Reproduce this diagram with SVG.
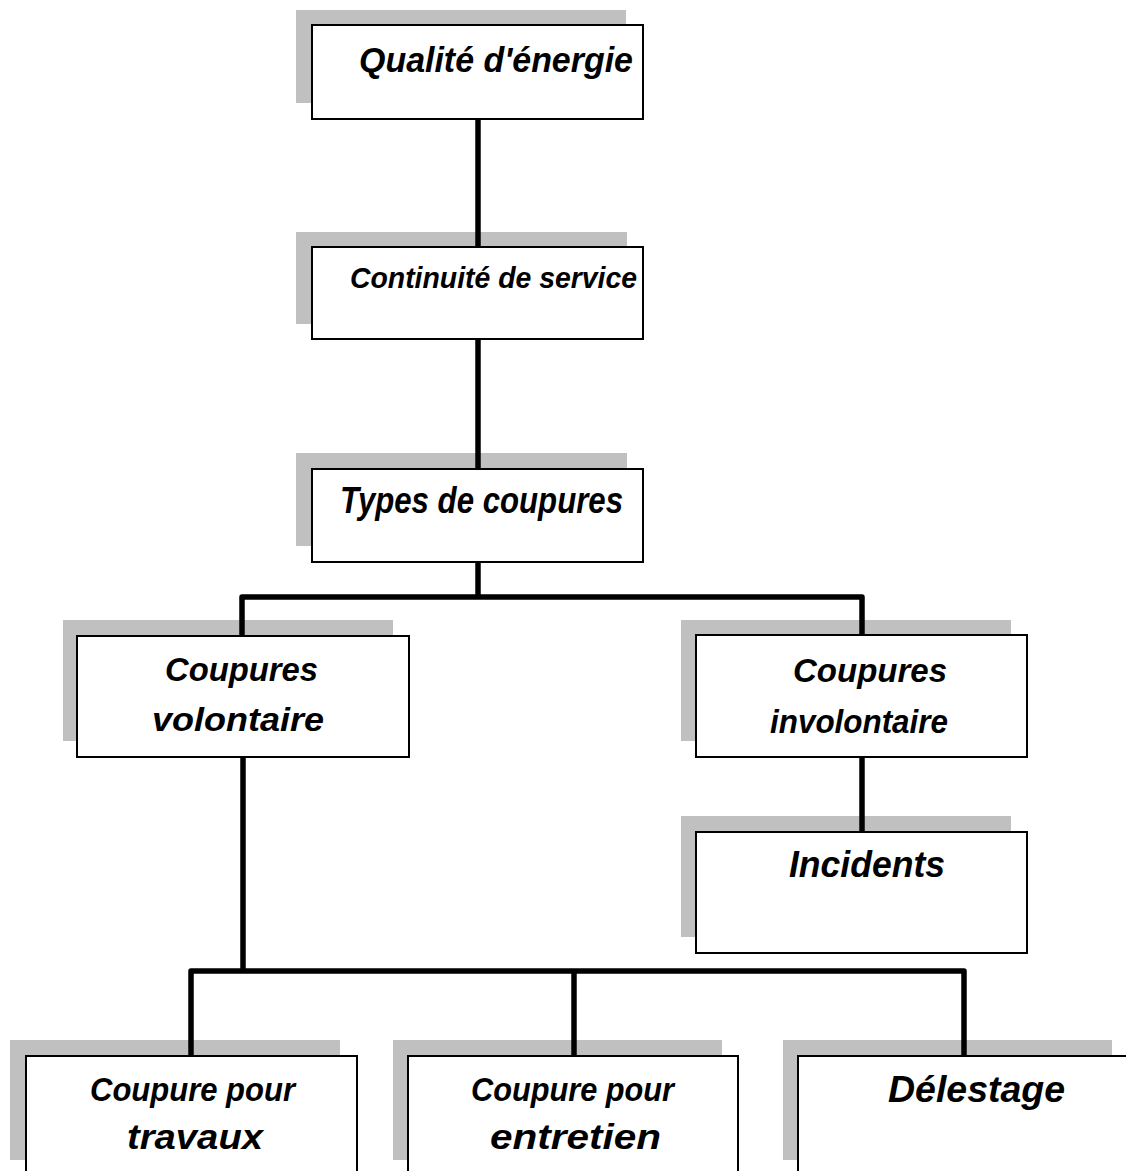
<svg xmlns="http://www.w3.org/2000/svg" width="1126" height="1171" viewBox="0 0 1126 1171">
<style>
.sh{fill:#c0c0c0;stroke:none}
.bx{fill:#ffffff;stroke:#000000;stroke-width:2}
.t{font-family:"Liberation Sans",Arial,sans-serif;font-weight:bold;font-style:italic;fill:#000000}
.c{fill:none;stroke:#000000;stroke-width:5.5;stroke-linejoin:round}
</style>
<rect width="1126" height="1171" fill="#ffffff"/>
<g id="qualite">
<rect class="sh" x="296" y="10" width="330" height="93"/>
<rect class="bx" x="312" y="25" width="331" height="94"/>
<text class="t" x="359" y="72" font-size="35" textLength="274" lengthAdjust="spacingAndGlyphs">Qualité d'énergie</text>
</g>
<g id="continuite">
<rect class="sh" x="296" y="232" width="331" height="92"/>
<rect class="bx" x="312" y="247" width="331" height="92"/>
<text class="t" x="350" y="288" font-size="30" textLength="287" lengthAdjust="spacingAndGlyphs">Continuité de service</text>
</g>
<g id="types">
<rect class="sh" x="296" y="453" width="331" height="93"/>
<rect class="bx" x="312" y="469" width="331" height="93"/>
<text class="t" x="340" y="513" font-size="36" textLength="283" lengthAdjust="spacingAndGlyphs">Types de coupures</text>
</g>
<g id="volontaire">
<rect class="sh" x="63" y="620" width="330" height="121"/>
<rect class="bx" x="77" y="636" width="332" height="121"/>
<text class="t" x="165" y="681" font-size="34" textLength="153" lengthAdjust="spacingAndGlyphs">Coupures</text>
<text class="t" x="152" y="731" font-size="34" textLength="172" lengthAdjust="spacingAndGlyphs">volontaire</text>
</g>
<g id="involontaire">
<rect class="sh" x="681" y="620" width="330" height="121"/>
<rect class="bx" x="696" y="635" width="331" height="122"/>
<text class="t" x="793" y="682" font-size="34" textLength="154" lengthAdjust="spacingAndGlyphs">Coupures</text>
<text class="t" x="770" y="733" font-size="33" textLength="178" lengthAdjust="spacingAndGlyphs">involontaire</text>
</g>
<g id="incidents">
<rect class="sh" x="681" y="816" width="330" height="121"/>
<rect class="bx" x="696" y="832" width="331" height="121"/>
<text class="t" x="789" y="877" font-size="36" textLength="156" lengthAdjust="spacingAndGlyphs">Incidents</text>
</g>
<g id="travaux">
<rect class="sh" x="10" y="1040" width="330" height="120"/>
<rect class="bx" x="26" y="1056" width="331" height="125"/>
<text class="t" x="90" y="1101" font-size="33" textLength="205" lengthAdjust="spacingAndGlyphs">Coupure pour</text>
<text class="t" x="127" y="1149" font-size="35" textLength="136" lengthAdjust="spacingAndGlyphs">travaux</text>
</g>
<g id="entretien">
<rect class="sh" x="393" y="1040" width="329" height="120"/>
<rect class="bx" x="408" y="1056" width="330" height="125"/>
<text class="t" x="471" y="1101" font-size="33" textLength="203" lengthAdjust="spacingAndGlyphs">Coupure pour</text>
<text class="t" x="490" y="1149" font-size="35" textLength="171" lengthAdjust="spacingAndGlyphs">entretien</text>
</g>
<g id="delestage">
<rect class="sh" x="783" y="1040" width="329" height="120"/>
<rect class="bx" x="798" y="1056" width="340" height="125"/>
<text class="t" x="888" y="1102" font-size="36" textLength="177" lengthAdjust="spacingAndGlyphs">Délestage</text>
</g>
<g id="connectors">
<path class="c" d="M478 119 V247"/>
<path class="c" d="M478 339 V469"/>
<path class="c" d="M478 562 V597"/>
<path class="c" d="M242 636 V597 H862 V635"/>
<path class="c" d="M862 757 V832"/>
<path class="c" d="M243 757 V971"/>
<path class="c" d="M191 1056 V971 H964 V1056"/>
<path class="c" d="M574 971 V1056"/>
</g>
</svg>
